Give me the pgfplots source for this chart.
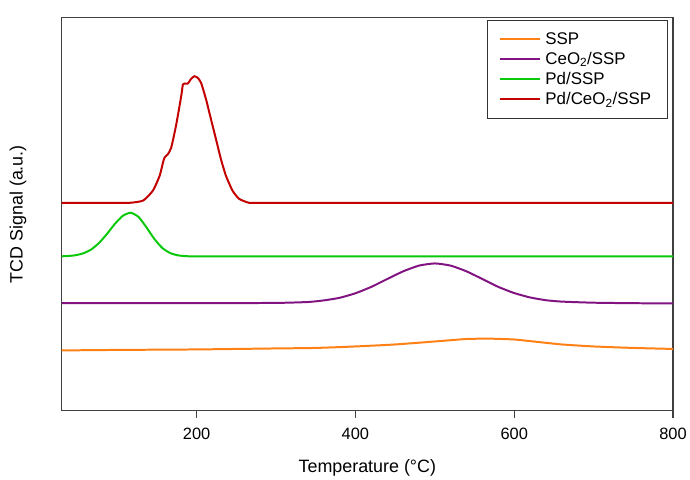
\documentclass[border=0pt]{standalone}
\usepackage{fontspec}
\setmainfont{Liberation Sans}
\usepackage{pgfplots}
\pgfplotsset{compat=1.18}

\definecolor{cSSP}{RGB}{255,128,20}
\definecolor{cCeO}{RGB}{130,20,130}
\definecolor{cPd}{RGB}{10,200,10}
\definecolor{cPdCe}{RGB}{195,0,0}

\begin{document}
\begin{tikzpicture}
  \begin{axis}[
      width=615pt, height=395pt,
      scale only axis,
      xmin=30, xmax=800,
      ymin=0, ymax=395,
      xtick={200,400,600,800},
      ytick=\empty,
      tick align=outside,
      xtick pos=bottom,
      major tick length=7pt,
      axis line style={draw=black!75, line width=1.2pt},
      every tick/.style={draw=black!75, line width=1.2pt},
      /pgf/number format/assume math mode=true,
      tick label style={font=\fontsize{16.5}{19}\selectfont},
      xticklabel style={yshift=-7pt},
      xlabel={Temperature (°C)},
      ylabel={TCD Signal (a.u.)},
      label style={font=\fontsize{18}{21}\selectfont},
      xlabel style={at={(axis description cs:0.5,-0.145)}, anchor=center},
      ylabel style={at={(axis description cs:-0.0715,0.5)}, anchor=center},
      legend style={
        at={(rel axis cs:0.992,0.995)}, anchor=north east,
        draw=black!80, line width=1.2pt,
        font=\fontsize{17}{20}\selectfont,
        inner xsep=12pt, inner ysep=10.5pt,
        row sep=3.5pt,
        nodes={inner xsep=4.5pt, inner ysep=1.5pt},
      },
      legend cell align=left,
      legend image code/.code={\draw[#1, line width=2pt] (0pt,0pt) -- (40pt,0pt);},
      every axis plot/.append style={line width=2pt, smooth, tension=0.35},
    ]
    % SSP
    \addplot[color=cSSP] coordinates {
      (30,60.5) (100,61) (200,61.5) (300,62.5) (350,63) (400,64.5) (450,66.5)
      (500,69.5) (540,72) (570,72.3) (600,71.5) (630,69) (660,66.5) (700,64.5)
      (750,63) (800,62)
    };
    % CeO2/SSP
    \addplot[color=cCeO] coordinates {
      (30,108) (100,108) (200,108) (300,108.3) (340,109.2) (360,110.8) (380,113.4) (400,118)
      (420,124.4) (440,132.3) (460,140) (480,145.8) (500,148) (520,145.8) (540,140)
      (560,132.3) (580,124.4) (600,118.2) (620,113.8) (640,111) (660,109.6)
      (700,108.5) (750,108) (800,107.8)
    };
    % Pd/SSP
    \addplot[color=cPd] coordinates {
      (30,155.2) (37,155.4) (47,156.2) (57,158.1) (67,161.9) (77,168.5) (87,177.6)
      (97,187.7) (107,195.9) (117,199) (127,194.7) (137,184.1) (147,172.4)
      (157,163.4) (167,158.3) (177,156.1) (187,155.3) (200,155) (215,155)
      (240,155) (300,155) (400,155) (500,155) (600,155) (700,155) (800,155)
    };
    % Pd/CeO2/SSP
    \addplot[color=cPdCe] coordinates {
      (30,209) (60,209) (90,209) (116,209) (132.7,211.3) (145,221.3) (153.5,236.3)
      (157.7,249.7) (159.8,254.7) (163.9,258) (168.1,264.7) (174.4,288)
      (180.6,316.3) (182.7,328) (184.8,329) (188.9,329) (193.1,333.7) (197.3,336.3)
      (201.4,334.7) (205.6,329.7) (211.9,313) (218.1,293) (224.4,273) (230.6,253)
      (236.9,236.3) (245.2,221.3) (253.5,213) (266,209) (280,209) (300,209)
      (400,209) (500,209) (600,209) (700,209) (800,209)
    };
    \legend{SSP, CeO\textsubscript{2}/SSP, Pd/SSP, Pd/CeO\textsubscript{2}/SSP}
  \end{axis}
  \path ([xshift=-62pt,yshift=-65pt]current axis.south west)
    rectangle ([xshift=13pt,yshift=18pt]current axis.north east);
\end{tikzpicture}
\end{document}
